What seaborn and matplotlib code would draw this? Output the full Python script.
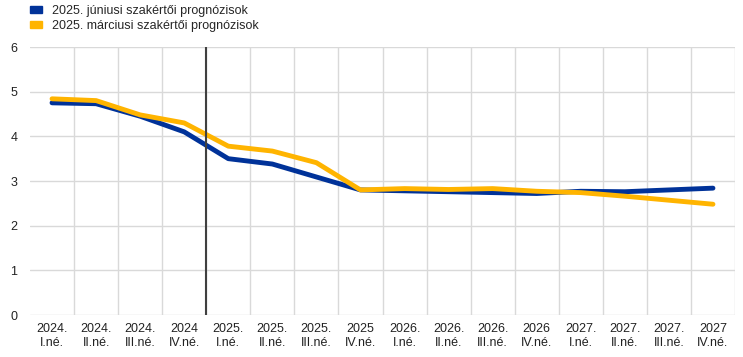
import pandas as pd
import matplotlib.pyplot as plt
import seaborn as sns

quarters = ['2024.\nI.né.', '2024.\nII.né.', '2024.\nIII.né.', '2024\nIV.né.',
            '2025.\nI.né.', '2025.\nII.né.', '2025.\nIII.né.', '2025\nIV.né.',
            '2026.\nI.né.', '2026.\nII.né.', '2026.\nIII.né.', '2026\nIV.né.',
            '2027.\nI.né.', '2027.\nII.né.', '2027.\nIII.né.', '2027\nIV.né.']
june = [4.75, 4.73, 4.45, 4.10, 3.50, 3.38, 3.09, 2.80,
        2.78, 2.76, 2.74, 2.72, 2.77, 2.76, 2.80, 2.84]
march = [4.84, 4.80, 4.48, 4.30, 3.78, 3.67, 3.41, 2.80,
         2.83, 2.81, 2.83, 2.77, 2.74, 2.66, 2.57, 2.48]
series = ['2025. júniusi szakértői prognózisok', '2025. márciusi szakértői prognózisok']
colors = ['#003299', '#FFB400']

df = pd.DataFrame({
    'x': list(range(len(quarters))) * 2,
    'value': june + march,
    'series': [series[0]] * len(june) + [series[1]] * len(march),
})

sns.set_style('white')
plt.rcParams['font.family'] = ['Liberation Sans', 'DejaVu Sans']

fig = plt.figure(figsize=(7.43, 3.57), dpi=100)
ax = fig.add_axes([30 / 743, 1 - 315 / 357, 705 / 743, 268 / 357])

sns.lineplot(data=df, x='x', y='value', hue='series', palette=colors,
             linewidth=3.5, ax=ax, legend=False, zorder=3)

ax.set_xlim(-0.5, 15.5)
ax.set_ylim(0, 6)
ax.set_yticks(range(0, 7))
ax.set_xticks(range(len(quarters)))
ax.set_xticklabels(quarters, fontsize=9, color='#222222', linespacing=1.15)
ax.set_xticks([i + 0.5 for i in range(len(quarters))], minor=True)
ax.tick_params(axis='y', labelsize=9, colors='#222222', length=0, pad=9)
ax.tick_params(axis='x', which='both', length=0, pad=6)
ax.grid(axis='y', color='#d9d9d9', linewidth=1)
ax.grid(axis='x', which='minor', color='#d9d9d9', linewidth=1)
ax.grid(axis='x', which='major', visible=False)
for s in ax.spines.values():
    s.set_visible(False)
ax.axvline(3.5, color='#404040', linewidth=1.5, zorder=4)
ax.set_xlabel('')
ax.set_ylabel('')

handles = [plt.Rectangle((0, 0), 1, 1, color=c) for c in colors]
fig.legend(handles, series, loc='upper left', bbox_to_anchor=(21 / 743, 1.01),
           frameon=False, fontsize=9, handlelength=1.0, handleheight=0.45,
           handletextpad=0.8, labelspacing=0.25, borderpad=0.2)

fig.savefig('out.png', dpi=100)
